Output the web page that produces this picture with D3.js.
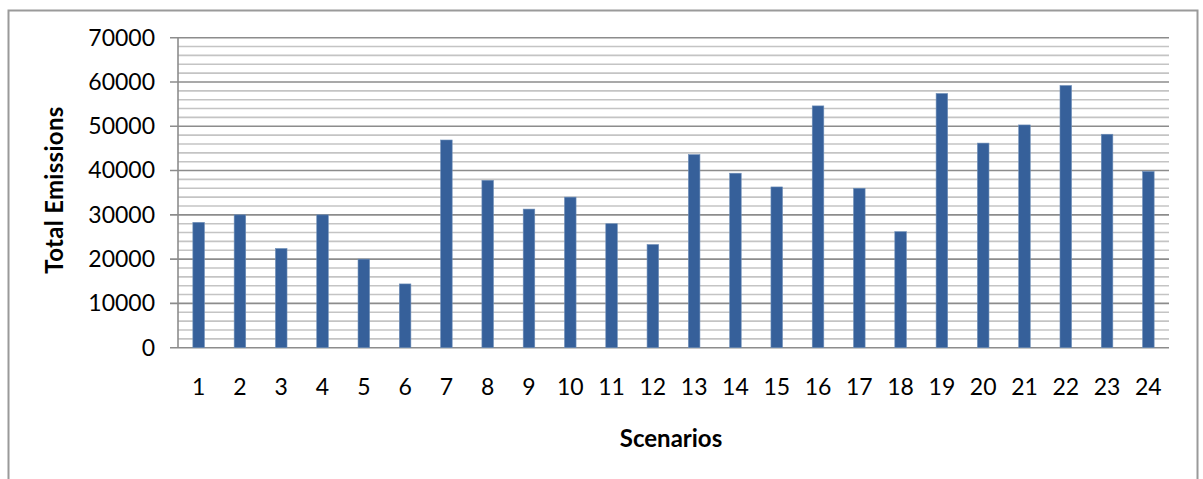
<!DOCTYPE html>
<html>
<head>
<meta charset="utf-8">
<script src="https://cdn.jsdelivr.net/npm/d3@7"></script>
<style>
  html, body { margin: 0; padding: 0; background: #fff; }
  svg { display: block; }
  text { font-family: Lato, "Open Sans", sans-serif; }
</style>
</head>
<body>
<svg id="chart" width="1203" height="479"></svg>
<script>
// Total emissions per scenario
const scenarios = d3.range(1, 25).map(String);
const emissions = [28300, 30000, 22400, 30000, 20000, 14400, 46900, 37800,
                   31300, 34000, 28000, 23300, 43600, 39400, 36300, 54600,
                   36000, 26200, 57400, 46200, 50300, 59200, 48200, 39800];
const majorTicks = [0, 10000, 20000, 30000, 40000, 50000, 60000, 70000];
const minorTicks = d3.range(0, 70001, 2000);

const svg = d3.select("#chart");
const plot = { left: 178, right: 1169, top: 37.7, bottom: 347.7 };

// outer chart frame
svg.append("rect")
  .attr("x", 8.5).attr("y", 10.5)
  .attr("width", 1189).attr("height", 480)
  .attr("fill", "#fff").attr("stroke", "#9a9a9a").attr("stroke-width", 2);

const x = d3.scaleBand().domain(scenarios)
  .range([plot.left, plot.right]).paddingInner(0.72).paddingOuter(0.36);
const y = d3.scaleLinear().domain([0, 70000]).range([plot.bottom, plot.top]);

// minor gridlines
svg.append("g").selectAll("line")
  .data(minorTicks.filter(v => v % 10000 !== 0))
  .join("line")
  .attr("x1", plot.left).attr("x2", plot.right)
  .attr("y1", d => y(d)).attr("y2", d => y(d))
  .attr("stroke", "#c4c4c4").attr("stroke-width", 1.6);

// major gridlines with outside tick marks
svg.append("g").selectAll("line")
  .data(majorTicks)
  .join("line")
  .attr("x1", plot.left - 8).attr("x2", plot.right)
  .attr("y1", d => y(d)).attr("y2", d => y(d))
  .attr("stroke", "#8c8c8c").attr("stroke-width", 1.6);

// value axis line
svg.append("line")
  .attr("x1", plot.left).attr("x2", plot.left)
  .attr("y1", plot.top).attr("y2", plot.bottom)
  .attr("stroke", "#8c8c8c").attr("stroke-width", 1.6);

// bars
svg.append("g").selectAll("rect")
  .data(emissions)
  .join("rect")
  .attr("x", (d, i) => x(scenarios[i]))
  .attr("width", x.bandwidth())
  .attr("y", d => y(d))
  .attr("height", d => y(0) - y(d))
  .attr("fill", "#36609a")
  .attr("stroke", "#6f8fb8").attr("stroke-width", 0.6);

// y tick labels
const yAxis = d3.axisLeft(y).tickValues(majorTicks).tickSize(0).tickPadding(0)
  .tickFormat(d3.format("d"));
const gy = svg.append("g").attr("transform", `translate(${plot.left - 23},0)`).call(yAxis);
gy.select(".domain").remove();
gy.selectAll("text").attr("font-size", 23).attr("fill", "#000")
  .attr("font-family", "Lato, 'Open Sans', sans-serif");

// x tick labels
const xAxis = d3.axisBottom(x).tickSize(0).tickPadding(0);
const gx = svg.append("g").attr("transform", `translate(0,${plot.bottom + 31})`).call(xAxis);
gx.select(".domain").remove();
gx.selectAll("text").attr("font-size", 23).attr("fill", "#000")
  .attr("font-family", "Lato, 'Open Sans', sans-serif");

// axis titles
svg.append("text")
  .attr("transform", "translate(63,190) rotate(-90)")
  .attr("text-anchor", "middle")
  .attr("font-size", 24).attr("font-weight", "bold")
  .attr("letter-spacing", 0.3)
  .text("Total Emissions");

svg.append("text")
  .attr("x", 671).attr("y", 447)
  .attr("text-anchor", "middle")
  .attr("font-size", 24).attr("font-weight", "bold")
  .text("Scenarios");
</script>
</body>
</html>
